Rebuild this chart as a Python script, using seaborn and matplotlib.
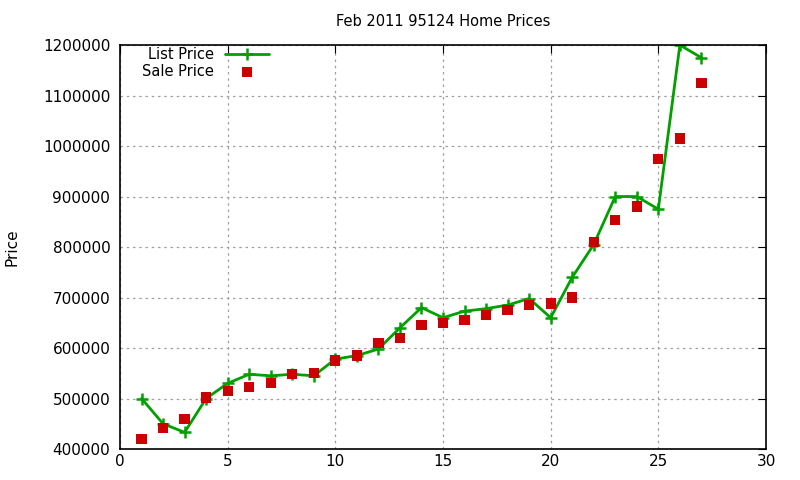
import matplotlib.pyplot as plt
import pandas as pd
import seaborn as sns

# Data
homes = list(range(1, 28))
list_price = [500000, 450000, 433000, 500000, 530000, 548000, 545000, 548000, 545000,
              578000, 585000, 598000, 640000, 680000, 660000, 673000, 678000, 685000,
              698000, 660000, 740000, 805000, 900000, 900000, 875000, 1200000, 1175000]
sale_price = [420000, 442000, 460000, 502000, 515000, 523000, 531000, 548000, 550000,
              575000, 585000, 610000, 620000, 645000, 650000, 655000, 665000, 675000,
              685000, 688000, 700000, 810000, 853000, 880000, 975000, 1015000, 1125000]

df = pd.DataFrame({'Home': homes, 'List': list_price, 'Sale': sale_price})

sns.set_style('white')
plt.rcParams['font.family'] = ['DejaVu Sans']
plt.rcParams['text.color'] = 'black'

fig = plt.figure(figsize=(8, 4.8), dpi=100)
ax = fig.add_axes([0.15, 0.0646, 0.8075, 0.8415])

sns.lineplot(data=df, x='Home', y='List', ax=ax, color='#00a000', linewidth=2,
             marker='+', markersize=8, markeredgewidth=1.8, markeredgecolor='#00a000',
             label='List Price')
sns.scatterplot(data=df, x='Home', y='Sale', ax=ax, color='#cc0000', marker='s',
                s=55, edgecolor='none', label='Sale Price', zorder=3)

ax.set_xlim(0, 30)
ax.set_ylim(400000, 1200000)
ax.set_xticks(range(0, 31, 5))
ax.set_yticks(range(400000, 1200001, 100000))
ax.ticklabel_format(axis='y', style='plain', useOffset=False)
ax.grid(True, color='#a0a0a0', linestyle=(0, (2, 3)), linewidth=0.9)
ax.tick_params(direction='in', length=6, top=True, right=True, labelsize=11,
               colors='black')
ax.tick_params(axis='y', pad=7)
for s in ax.spines.values():
    s.set_color('black')
    s.set_linewidth(1.2)

ax.set_xlabel('')
ax.set_ylabel('Price', fontsize=11, labelpad=17, color='black')
ax.set_title('Feb 2011 95124 Home Prices', fontsize=10.5, pad=14, color='black')

leg = ax.legend(loc='upper left', bbox_to_anchor=(0.018, 1.02), markerfirst=False,
                frameon=False, fontsize=10.5, handlelength=3, borderaxespad=0.3,
                labelspacing=0.1)

fig.savefig('out.png', dpi=100)
